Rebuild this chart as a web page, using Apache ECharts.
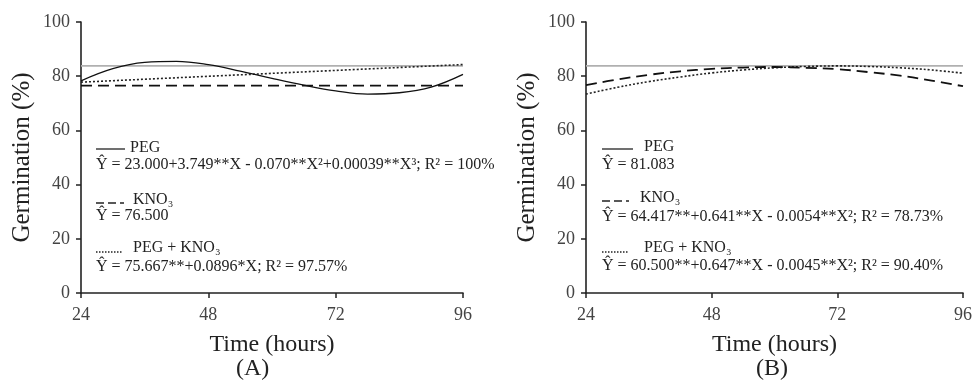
<!DOCTYPE html>
<html>
<head>
<meta charset="utf-8">
<script src="https://cdn.jsdelivr.net/npm/echarts@6/dist/echarts.min.js"></script>
<style>
  html, body { margin: 0; padding: 0; background: #fff; }
  #chart { width: 975px; height: 381px; }
</style>
</head>
<body>
<div id="chart"></div>
<script>
var hours = [24, 30, 36, 42, 48, 54, 60, 66, 72, 78, 84, 90, 96];
var xTicks = [24, 48, 72, 96];

// panel A
var pegA = [78.3, 82.8, 85.1, 85.5, 84.3, 81.9, 79.2, 76.7, 74.6, 73.4, 73.9, 76.0, 80.7];
var kno3A = [76.5, 76.5];
var mixA = [77.8, 84.3];
var grayA = [83.8, 83.8];

// panel B
var kno3B = [76.7, 78.8, 80.5, 81.8, 82.7, 83.2, 83.4, 83.1, 82.6, 81.5, 80.2, 78.4, 76.3];
var mixB = [73.4, 75.9, 78.0, 79.7, 81.2, 82.3, 83.1, 83.6, 83.8, 83.6, 83.1, 82.3, 81.1];
var grayB = [83.8, 83.8];

var ends = [24, 96];
function pairs(xs, ys) { return xs.map(function (x, i) { return [x, ys[i]]; }); }

var serif = '"Liberation Serif", "DejaVu Serif", serif';

var chart = echarts.init(document.getElementById('chart'));

function xAxis(idx) {
  return {
    type: 'value', gridIndex: idx, min: 24, max: 96, interval: 24,
    name: 'Time (hours)', nameLocation: 'middle', nameGap: 40,
    nameTextStyle: { fontFamily: serif, fontSize: 24, color: '#222' },
    axisLine: { lineStyle: { color: '#222', width: 1.6 } },
    axisTick: { length: 5, lineStyle: { color: '#222', width: 1.5 } },
    axisLabel: { fontFamily: serif, fontSize: 18, color: '#444', margin: 13 },
    splitLine: { show: false }
  };
}
function yAxis(idx) {
  return {
    type: 'value', gridIndex: idx, min: 0, max: 100, interval: 20,
    name: 'Germination (%)', nameLocation: 'middle', nameGap: 46,
    nameTextStyle: { fontFamily: serif, fontSize: 25, color: '#222' },
    axisLine: { show: true, lineStyle: { color: '#222', width: 1.6 } },
    axisTick: { show: true, length: 5, lineStyle: { color: '#222', width: 1.5 } },
    axisLabel: { fontFamily: serif, fontSize: 18, color: '#444', margin: 11 },
    splitLine: { show: false }
  };
}
function line(idx, data, style, smooth) {
  return {
    type: 'line', xAxisIndex: idx, yAxisIndex: idx, data: data,
    symbol: 'none', smooth: smooth ? 0.4 : false, lineStyle: style, z: 3
  };
}

var solid = { color: '#111', width: 1.3 };
var dashed = { color: '#111', width: 1.8, type: [11, 6] };
var dotted = { color: '#222', width: 1.6, type: [2, 2] };
var gray = { color: '#b0b0b0', width: 1.6 };

function txt(x, y, s, size) {
  return {
    type: 'text', left: x, top: y,
    style: { text: s, fontFamily: serif, fontSize: size || 16, fill: '#222' }
  };
}
function seg(x1, x2, y, dash) {
  return {
    type: 'line', shape: { x1: x1, y1: y, x2: x2, y2: y },
    style: { stroke: '#222', lineWidth: 1.3, lineDash: dash || null }
  };
}

chart.setOption({
  animation: false,
  grid: [
    { left: 81, top: 22, width: 382, height: 271 },
    { left: 586, top: 22, width: 382, height: 271 }
  ],
  xAxis: [xAxis(0), xAxis(1)],
  yAxis: [yAxis(0), yAxis(1)],
  series: [
    line(0, pairs(ends, grayA), gray),
    line(0, pairs(ends, kno3A), dashed),
    line(0, pairs(ends, mixA), dotted),
    line(0, pairs(hours, pegA), solid, true),
    line(1, pairs(ends, grayB), gray),
    line(1, pairs(hours, mixB), dotted, true),
    line(1, pairs(hours, kno3B), dashed, true)
  ],
  graphic: [
    // panel A legend
    seg(96, 125, 149),
    txt(130, 140, 'PEG'),
    txt(96, 157, 'Ŷ = 23.000+3.749**X - 0.070**X²+0.00039**X³; R² = 100%'),
    seg(96, 124, 203, [8, 4]),
    txt(133, 192, 'KNO₃'),
    txt(96, 208, 'Ŷ = 76.500'),
    seg(96, 122, 252, [1.5, 1.5]),
    txt(133, 240, 'PEG + KNO₃'),
    txt(96, 259, 'Ŷ = 75.667**+0.0896*X; R² = 97.57%'),
    // panel B legend
    seg(602, 633, 149),
    txt(644, 139, 'PEG'),
    txt(602, 157, 'Ŷ = 81.083'),
    seg(602, 629, 201, [8, 4]),
    txt(640, 190, 'KNO₃'),
    txt(602, 209, 'Ŷ = 64.417**+0.641**X - 0.0054**X²; R² = 78.73%'),
    seg(602, 629, 252, [1.5, 1.5]),
    txt(644, 240, 'PEG + KNO₃'),
    txt(602, 258, 'Ŷ = 60.500**+0.647**X - 0.0045**X²; R² = 90.40%'),
    // panel captions
    txt(236, 357, '(A)', 24),
    txt(756, 357, '(B)', 24)
  ]
});
</script>
</body>
</html>
